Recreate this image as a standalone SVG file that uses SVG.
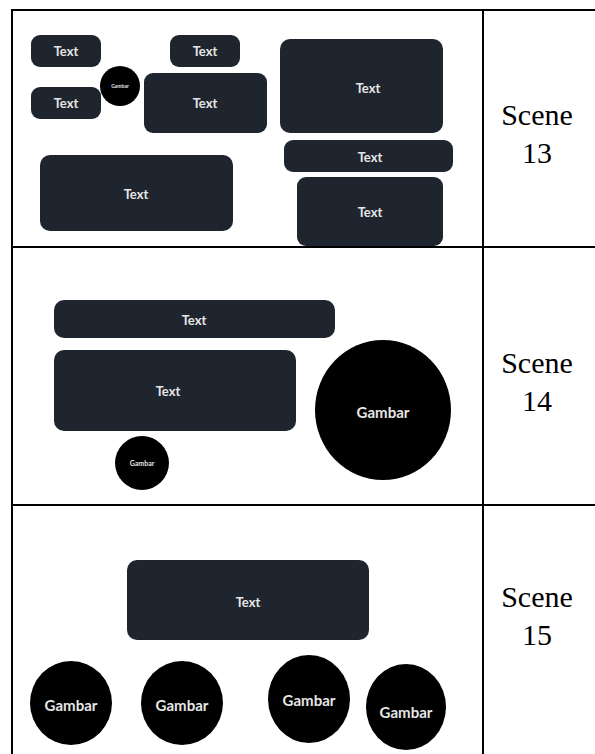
<svg xmlns="http://www.w3.org/2000/svg" width="595" height="754" viewBox="0 0 595 754">
<style>
.box{fill:#1e252f;}
.dot{fill:#000;}
.lbl{font-family:Lato,"Liberation Sans",sans-serif;font-weight:700;fill:#e6e6e6;text-anchor:middle;dominant-baseline:central;}
.t{font-size:13px;}
.g{font-size:15px;}
.scene{font-family:"Liberation Serif","Times New Roman",serif;font-size:30px;fill:#000;text-anchor:middle;}
.grid{stroke:#000;stroke-width:2;fill:none;}
</style>
<rect x="0" y="0" width="595" height="754" fill="#fff"/>
<g id="table">
<path class="grid" d="M12 10H595M12 247H595M12 505H595M12 9V754M483 9V754"/>
</g>
<g id="scene13-label"><text class="scene" x="537" y="125">Scene</text><text class="scene" x="537" y="163">13</text></g>
<g id="scene14-label"><text class="scene" x="537" y="373">Scene</text><text class="scene" x="537" y="411">14</text></g>
<g id="scene15-label"><text class="scene" x="537" y="607">Scene</text><text class="scene" x="537" y="645">15</text></g>

<g id="s13-text1"><rect class="box" x="31" y="35" width="70" height="32" rx="9"/><text class="lbl t" x="66" y="51">Text</text></g>
<g id="s13-text2"><rect class="box" x="31" y="87" width="70" height="32" rx="9"/><text class="lbl t" x="66" y="103">Text</text></g>
<g id="s13-gambar"><circle class="dot" cx="120" cy="86" r="20"/><text class="lbl" style="font-size:5px" x="120" y="86">Gambar</text></g>
<g id="s13-text3"><rect class="box" x="170" y="35" width="70" height="32" rx="9"/><text class="lbl t" x="205" y="51">Text</text></g>
<g id="s13-text4"><rect class="box" x="144" y="73" width="123" height="60" rx="9"/><text class="lbl t" x="205" y="103">Text</text></g>
<g id="s13-text5"><rect class="box" x="280" y="39" width="163" height="94" rx="10"/><text class="lbl t" x="368" y="88">Text</text></g>
<g id="s13-text6"><rect class="box" x="284" y="140" width="169" height="32" rx="9"/><text class="lbl t" x="370" y="157">Text</text></g>
<g id="s13-text7"><rect class="box" x="297" y="177" width="146" height="69" rx="9"/><text class="lbl t" x="370" y="212">Text</text></g>
<g id="s13-text8"><rect class="box" x="40" y="155" width="193" height="76" rx="10"/><text class="lbl t" x="136" y="194">Text</text></g>

<g id="s14-text1"><rect class="box" x="54" y="300" width="281" height="38" rx="10"/><text class="lbl t" x="194" y="320">Text</text></g>
<g id="s14-text2"><rect class="box" x="54" y="350" width="242" height="81" rx="10"/><text class="lbl t" x="168" y="391">Text</text></g>
<g id="s14-gambar1"><circle class="dot" cx="142" cy="463" r="27"/><text class="lbl" style="font-size:7px" x="142" y="463">Gambar</text></g>
<g id="s14-gambar2"><ellipse class="dot" cx="383" cy="410" rx="68" ry="70"/><text class="lbl g" x="383" y="412">Gambar</text></g>

<g id="s15-text"><rect class="box" x="127" y="560" width="242" height="80" rx="10"/><text class="lbl t" x="248" y="602">Text</text></g>
<g id="s15-gambar1"><ellipse class="dot" cx="71" cy="703" rx="41" ry="42"/><text class="lbl g" x="71" y="705">Gambar</text></g>
<g id="s15-gambar2"><ellipse class="dot" cx="182" cy="703" rx="41" ry="42"/><text class="lbl g" x="182" y="705">Gambar</text></g>
<g id="s15-gambar3"><ellipse class="dot" cx="309" cy="699" rx="41" ry="44"/><text class="lbl g" x="309" y="700">Gambar</text></g>
<g id="s15-gambar4"><ellipse class="dot" cx="406" cy="707" rx="40" ry="43"/><text class="lbl g" x="406" y="712">Gambar</text></g>
</svg>
